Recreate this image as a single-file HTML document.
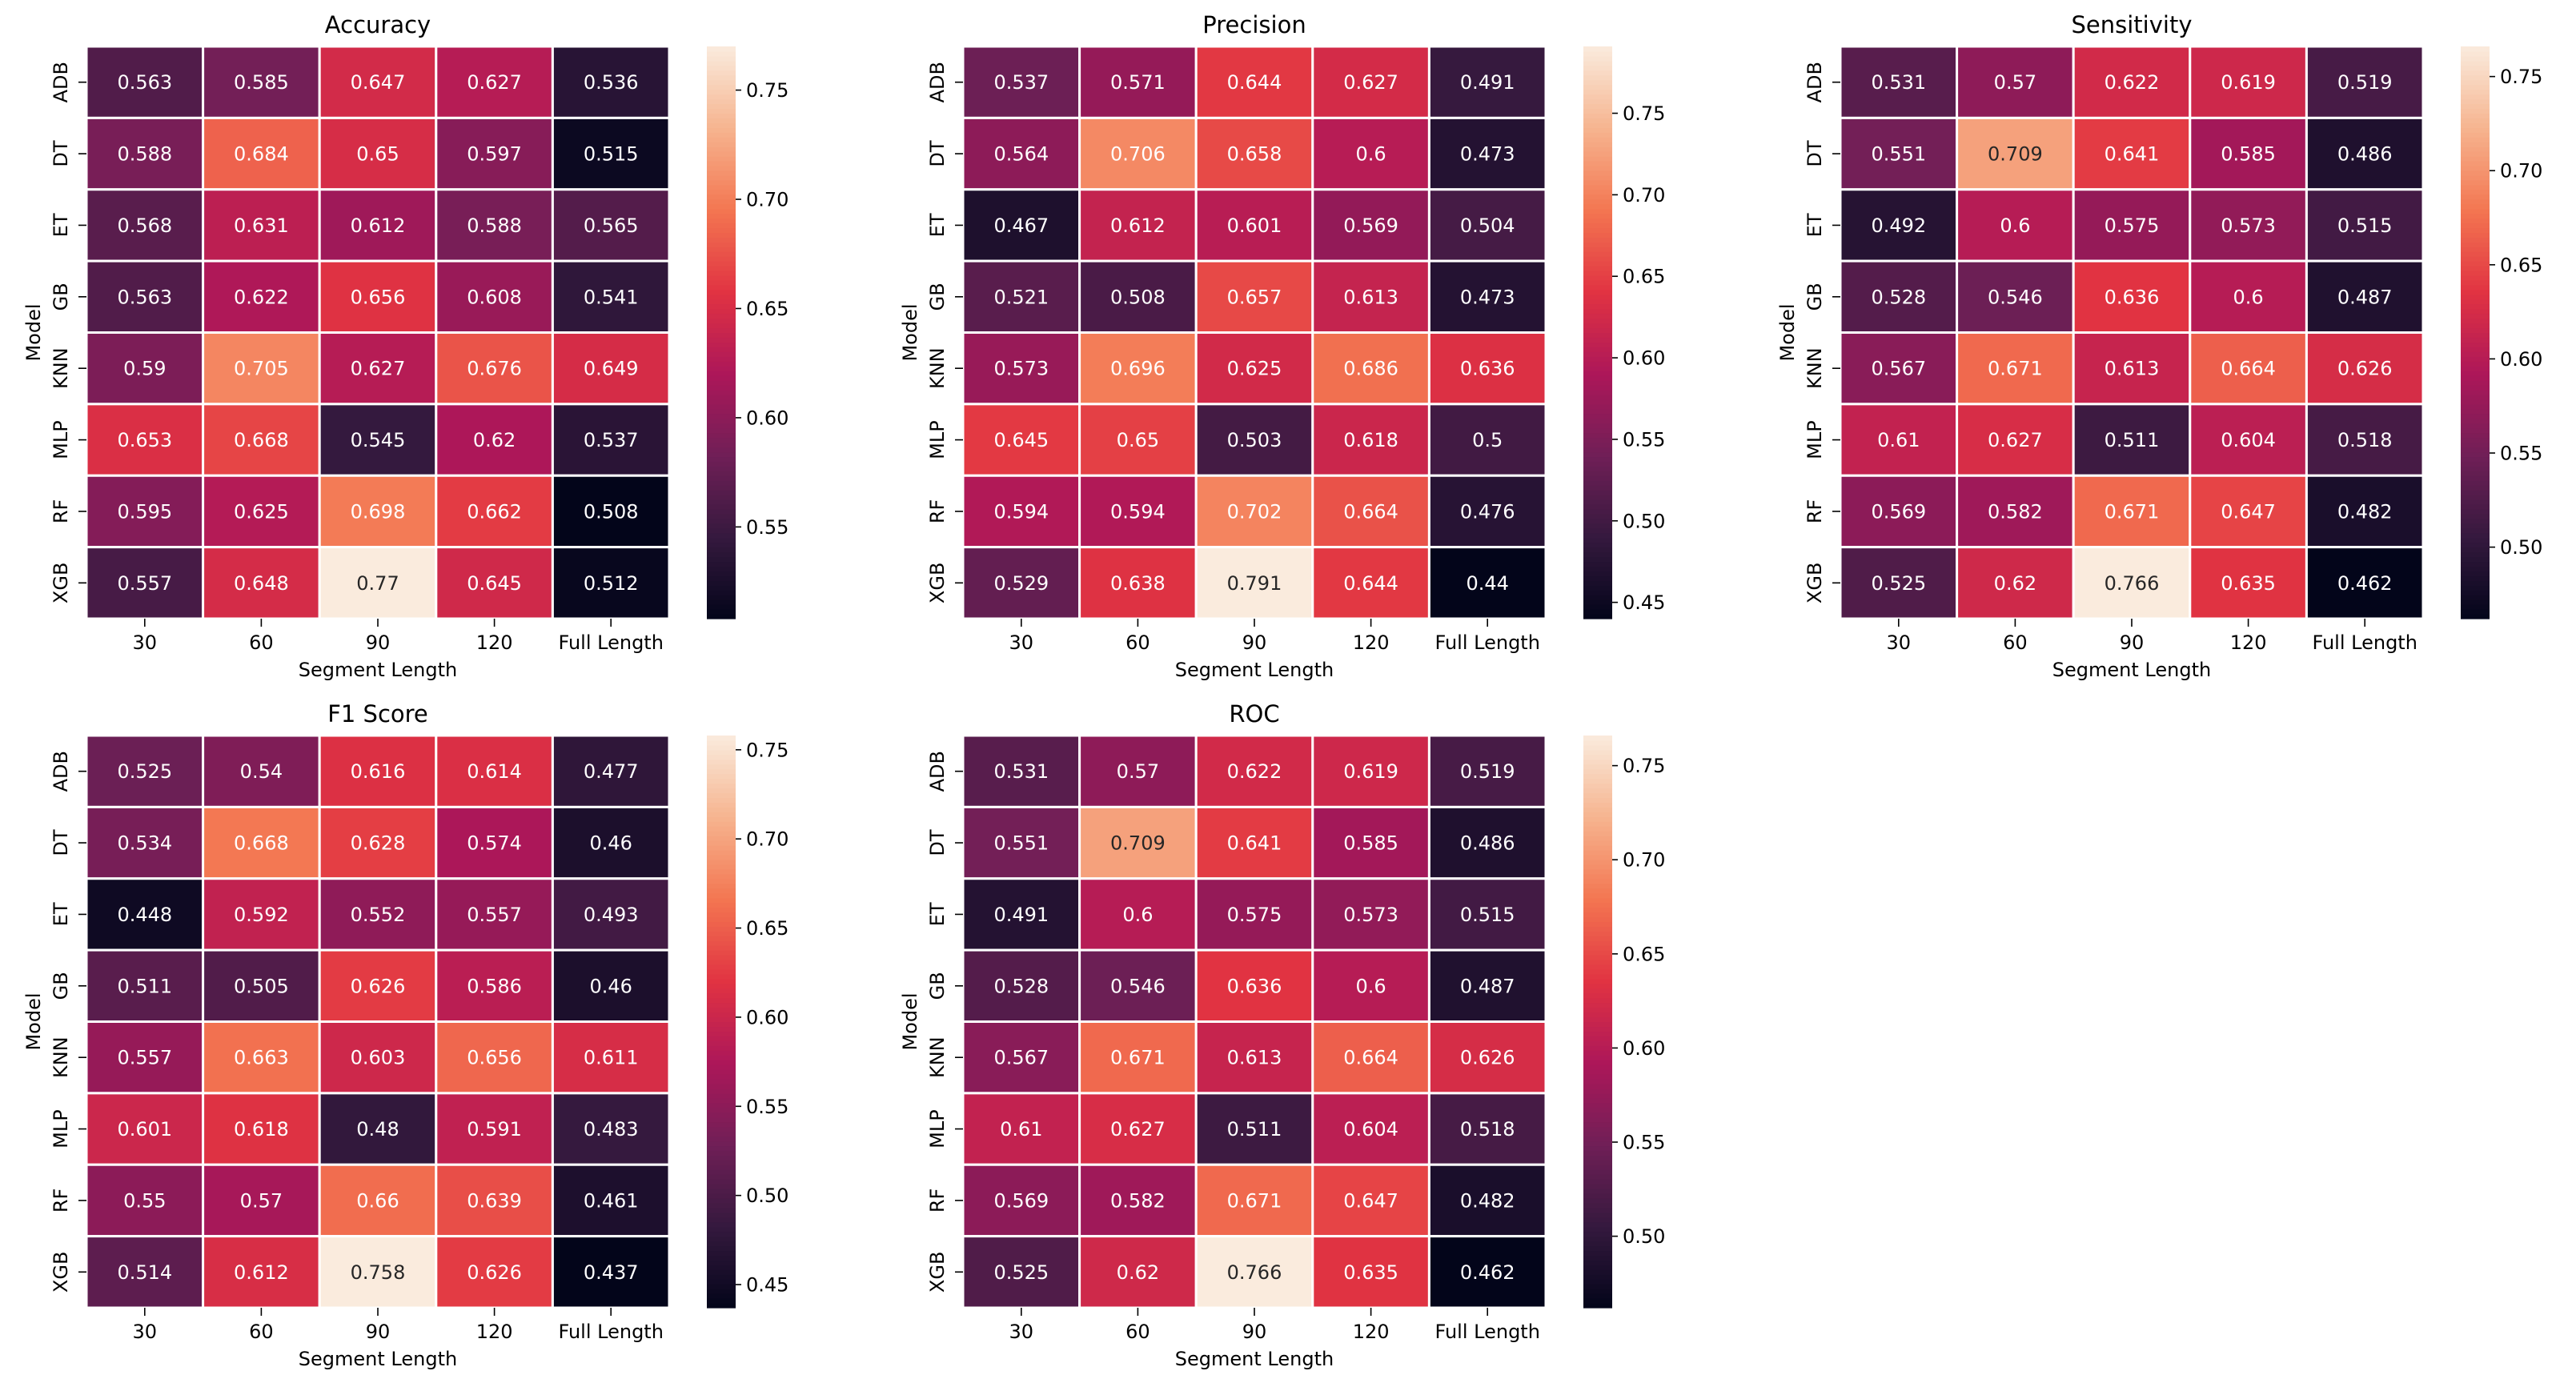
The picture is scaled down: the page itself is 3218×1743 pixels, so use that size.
<!DOCTYPE html>
<html><head><meta charset="utf-8">
<style>
html,body{margin:0;padding:0;background:#fff;}
svg{display:block;font-family:"DejaVu Sans","Liberation Sans",sans-serif;}
</style></head>
<body>
<svg id="fig" width="3218" height="1743" viewBox="0 0 3218 1743" xmlns="http://www.w3.org/2000/svg"></svg>
<script>
const models = ["ADB","DT","ET","GB","KNN","MLP","RF","XGB"];
const segments = ["30","60","90","120","Full Length"];
const accuracyValues = [
 [0.563,0.585,0.647,0.627,0.536],[0.588,0.684,0.65,0.597,0.515],[0.568,0.631,0.612,0.588,0.565],[0.563,0.622,0.656,0.608,0.541],
 [0.59,0.705,0.627,0.676,0.649],[0.653,0.668,0.545,0.62,0.537],[0.595,0.625,0.698,0.662,0.508],[0.557,0.648,0.77,0.645,0.512]];
const precisionValues = [
 [0.537,0.571,0.644,0.627,0.491],[0.564,0.706,0.658,0.6,0.473],[0.467,0.612,0.601,0.569,0.504],[0.521,0.508,0.657,0.613,0.473],
 [0.573,0.696,0.625,0.686,0.636],[0.645,0.65,0.503,0.618,0.5],[0.594,0.594,0.702,0.664,0.476],[0.529,0.638,0.791,0.644,0.44]];
const sensitivityValues = [
 [0.531,0.57,0.622,0.619,0.519],[0.551,0.709,0.641,0.585,0.486],[0.492,0.6,0.575,0.573,0.515],[0.528,0.546,0.636,0.6,0.487],
 [0.567,0.671,0.613,0.664,0.626],[0.61,0.627,0.511,0.604,0.518],[0.569,0.582,0.671,0.647,0.482],[0.525,0.62,0.766,0.635,0.462]];
const f1Values = [
 [0.525,0.54,0.616,0.614,0.477],[0.534,0.668,0.628,0.574,0.46],[0.448,0.592,0.552,0.557,0.493],[0.511,0.505,0.626,0.586,0.46],
 [0.557,0.663,0.603,0.656,0.611],[0.601,0.618,0.48,0.591,0.483],[0.55,0.57,0.66,0.639,0.461],[0.514,0.612,0.758,0.626,0.437]];
const rocValues = [
 [0.531,0.57,0.622,0.619,0.519],[0.551,0.709,0.641,0.585,0.486],[0.491,0.6,0.575,0.573,0.515],[0.528,0.546,0.636,0.6,0.487],
 [0.567,0.671,0.613,0.664,0.626],[0.61,0.627,0.511,0.604,0.518],[0.569,0.582,0.671,0.647,0.482],[0.525,0.62,0.766,0.635,0.462]];
const accuracyTicks = [0.55,0.60,0.65,0.70,0.75];
const precisionTicks = [0.45,0.50,0.55,0.60,0.65,0.70,0.75];
const sensitivityTicks = [0.50,0.55,0.60,0.65,0.70,0.75];
const f1Ticks = [0.45,0.50,0.55,0.60,0.65,0.70,0.75];
const rocTicks = [0.50,0.55,0.60,0.65,0.70,0.75];

const panels = [
 {title:"Accuracy",vals:accuracyValues,ticks:accuracyTicks,x:108,y:58,name:"accuracy"},
 {title:"Precision",vals:precisionValues,ticks:precisionTicks,x:1203,y:58,name:"precision"},
 {title:"Sensitivity",vals:sensitivityValues,ticks:sensitivityTicks,x:2299,y:58,name:"sensitivity"},
 {title:"F1 Score",vals:f1Values,ticks:f1Ticks,x:108,y:919,name:"f1-score"},
 {title:"ROC",vals:rocValues,ticks:rocTicks,x:1203,y:919,name:"roc"}];

const W=728,H=715,CBOFF=775,CBW=36;
const stops=[[0,"#03051a"],[1/7,"#35193e"],[2/7,"#701f57"],[3/7,"#ad1759"],[4/7,"#e13342"],[5/7,"#f37651"],[6/7,"#f6b48f"],[1,"#faebdd"]];
function hex(h){return [1,3,5].map(i=>parseInt(h.substr(i,2),16));}
function cmap(t){t=Math.max(0,Math.min(1,t));
 for(let i=1;i<stops.length;i++){if(t<=stops[i][0]){const a=stops[i-1],b=stops[i];const f=(t-a[0])/(b[0]-a[0]);
  const ca=hex(a[1]),cb=hex(b[1]);return ca.map((v,k)=>Math.round(v+(cb[k]-v)*f));}}
 return hex("#faebdd");}
function rgb(c){return "rgb("+c.join(",")+")";}
function lum(c){const l=c.map(v=>{v/=255;return v<=0.03928?v/12.92:Math.pow((v+0.055)/1.055,2.4);});return 0.2126*l[0]+0.7152*l[1]+0.0722*l[2];}
const NS="http://www.w3.org/2000/svg";
const svg=document.getElementById("fig");
function el(tag,attrs,parent,text){const e=document.createElementNS(NS,tag);for(const k in attrs)e.setAttribute(k,attrs[k]);if(text!==undefined)e.textContent=text;parent.appendChild(e);return e;}

panels.forEach(p=>{
 const g=el("g",{},svg);
 
 
 const flat=p.vals.flat();const vmin=Math.min(...flat),vmax=Math.max(...flat);
 const nr=models.length,nc=segments.length,cw=W/nc,rh=H/nr;
 const xs=j=>p.x+j*cw, ys=i=>p.y+i*rh;
 const t=el("text",{x:p.x+W/2,y:p.y-17,"text-anchor":"middle","font-size":"29"},g,p.title);
 
 
 p.vals.forEach((row,i)=>row.forEach((v,j)=>{
  const c=cmap((v-vmin)/(vmax-vmin));
  const r=el("rect",{x:xs(j),y:ys(i),width:cw,height:rh,fill:rgb(c),stroke:"#fff","stroke-width":"3"},g);
  
  
  const tx=el("text",{x:xs(j)+cw/2,y:ys(i)+rh/2+8.5,"text-anchor":"middle","font-size":"24",fill:lum(c)>0.408?"#262626":"#fff"},g,String(v));
  
  
 }));
 models.forEach((m,i)=>{
  const cy=ys(i)+rh/2;
  el("line",{x1:p.x-10,x2:p.x,y1:cy,y2:cy,stroke:"#000","stroke-width":"1.6"},g);
  const lt=el("text",{x:0,y:0,"text-anchor":"middle","font-size":"24",transform:"translate("+(p.x-24)+","+cy+") rotate(-90)"},g,m);
  
  
 });
 const yl=el("text",{x:0,y:0,"text-anchor":"middle","font-size":"24",transform:"translate("+(p.x-58)+","+(p.y+H/2)+") rotate(-90)"},g,"Model");
 
 
 segments.forEach((s,j)=>{
  const cx=xs(j)+cw/2;
  el("line",{x1:cx,x2:cx,y1:p.y+H,y2:p.y+H+10,stroke:"#000","stroke-width":"1.6"},g);
  const xt=el("text",{x:cx,y:p.y+H+38,"text-anchor":"middle","font-size":"24"},g,s);
  
  
 });
 const xl=el("text",{x:p.x+W/2,y:p.y+H+72,"text-anchor":"middle","font-size":"24"},g,"Segment Length");
 
 
 // colorbar
 const cb=el("g",{},g);
 
 
 const cbx=p.x+CBOFF,N=120;
 for(let k=0;k<N;k++){
  el("rect",{x:cbx,y:p.y+H-(k+1)*H/N,width:CBW,height:H/N+0.6,fill:rgb(cmap((k+0.5)/N))},cb);
 }
 const cy=v=>p.y+H-(v-vmin)/(vmax-vmin)*H;
 p.ticks.forEach(tv=>{
  const y=cy(tv);
  el("line",{x1:cbx+CBW,x2:cbx+CBW+7,y1:y,y2:y,stroke:"#000","stroke-width":"1.6"},cb);
  const ct=el("text",{x:cbx+CBW+13,y:y+8.5,"font-size":"24"},cb,tv.toFixed(2));
  
  
 });
});
</script>
</body></html>
